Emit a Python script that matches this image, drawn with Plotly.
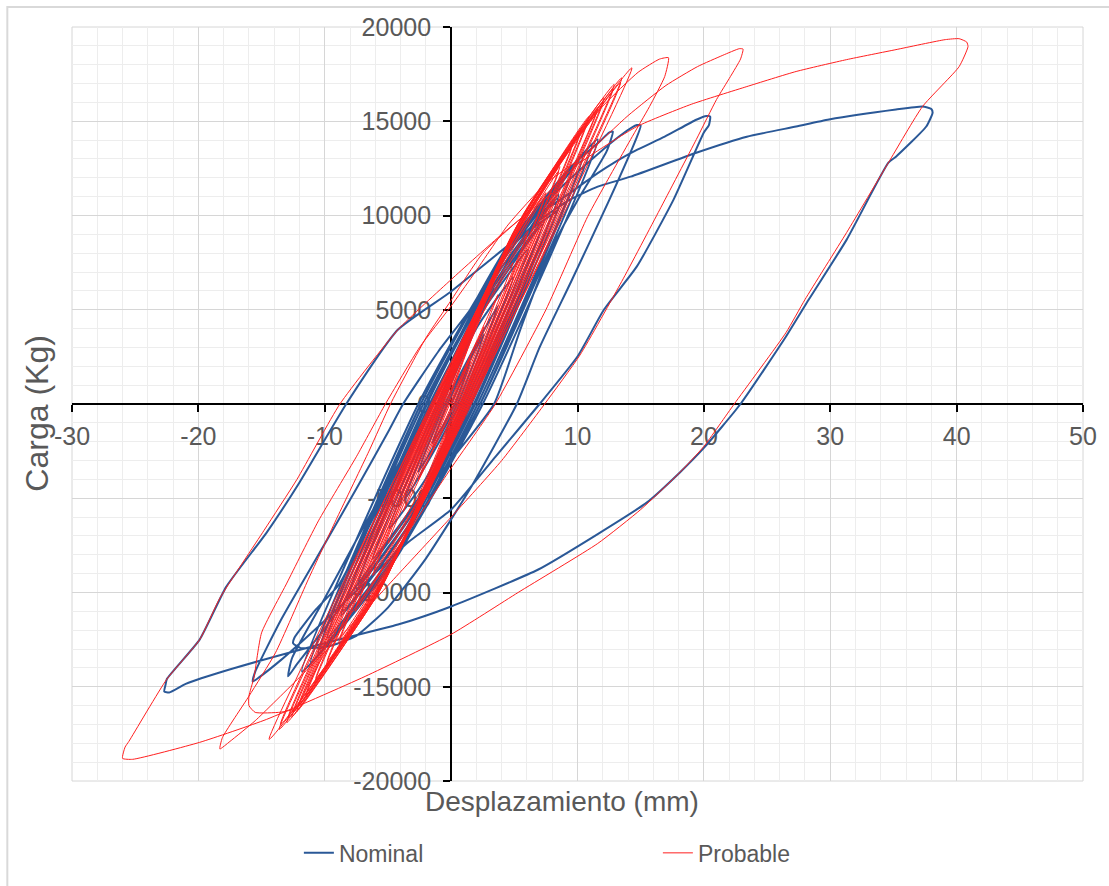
import plotly.graph_objects as go

# ---------------- data ----------------
nominal_x = [
    0,
    1.5, 0.3, -1.5, -0.3,
    2.6, 0.5, -2.6, -0.5,
    3.7, 0.7, -3.7, -0.7,
    2.0, 4.9, 0.9, -2.0, -4.9, -0.9,
    2.5, 6.1, 1.1, -2.5, -6.2, -1.1,
    3.0, 7.3, 1.3, -3.1, -7.5, -1.4,
    3.1, 7.2, 1.5, -3.0, -7.4, -1.6,
    3.4, 8.5, 1.6, -3.6, -8.7, -1.7,
    3.5, 8.4, 1.8, -3.5, -8.6, -1.9,
    3.8, 9.5, 1.9, -4.0, -9.8, -2.0,
    4.1, 10.4, 2.1, -4.2, -10.5, -2.2,
    4.2, 10.3, 2.3, -4.1, -10.4, -2.4,
    4.4, 11.1, 2.3, -4.4, -11.1, -2.4,
    4.5, 11.6, 2.5, -4.7, -11.8, -2.6,
    1.5, 5.5, 9.5, 11.8, 12.5, 12.8,
    12.3, 10.0, 7.9, 5.5, 3.4, 0.0, -3.5, -7.0, -10.0, -12.2, -12.9,
    -12.6, -10.0, -7.0, -4.0, -1.5, 1.0, 4.0, 8.0, 11.0, 13.5, 14.7, 15.0,
    14.6, 12.5, 9.5, 7.0, 5.2, 1.5, -2.0, -5.0, -7.5, -9.7, -11.9, -12.5,
    -12.4, -10.7, -8.9, -6.5, -4.0, -2.0, 0.0, 1.5, 2.2, 3.5, 6.3, 9.0, 11.6, 14.2, 16.9, 19.4, 20.2, 20.5,
    20.4, 20.0, 17.6, 14.7, 12.1, 10.0, 7.0, 3.5, 0.0, -3.4, -7.0, -10.5, -13.5, -15.2, -15.7,
    -15.5, -13.5, -10.5, -7.5, -5.0, -3.8, -1.0, 1.5, 4.0, 6.5, 9.4, 11.6, 14.2, 19.4, 23.4, 27.3, 29.9, 35.2, 37.3, 38.0, 38.1,
    37.6, 35.2, 34.6, 31.3, 28.3, 26.5, 22.9, 20.0, 18.1, 15.5, 11.6, 6.9, 0.0, -4.2, -9.8, -17.6, -21.0, -22.3, -22.7,
    -22.6, -22.5, -19.9, -17.8, -14.6, -12.0, -8.3, -4.2, 0.0, 4.5, 8.5,
]
nominal_y = [
    0,
    2200, 0, -2100, 0,
    3700, 0, -3600, 0,
    5200, 0, -5100, 0,
    4020, 6700, 0, -3960, -6600, 0,
    4920, 8200, 0, -4920, -8200, 0,
    5820, 9700, 0, -5880, -9800, 0,
    5700, 9500, 0, -5750, -9600, 0,
    6660, 11100, 0, -6720, -11200, 0,
    6500, 10900, 0, -6550, -11000, 0,
    7380, 12300, 0, -7440, -12400, 0,
    7860, 13100, 0, -7920, -13200, 0,
    7700, 12900, 0, -7750, -13000, 0,
    8220, 13700, 0, -8220, -13700, 0,
    8420, 14030, 0, -8510, -14190, 0,
    5000, 9300, 12600, 13950, 14400, 14450,
    13400, 10800, 8190, 4000, 0, -2970, -6000, -9200, -11900, -13800, -14450,
    -13500, -10300, -6600, -3000, 0, 3000, 7000, 11000, 12900, 14300, 14800, 14770,
    14000, 10800, 6500, 3000, 0, -4500, -8200, -10800, -12300, -12850, -12950, -12700,
    -12400, -10900, -9600, -6500, -3000, 0, 2600, 4500, 5400, 7300, 9780, 11000, 12250, 13310, 14180, 15080, 15280, 15250,
    14800, 14400, 10840, 7300, 5010, 2520, 0, -2800, -5600, -7340, -9600, -11800, -13600, -14500, -14720,
    -14200, -11500, -8000, -4500, -1500, 0, 2800, 5000, 7700, 9500, 10840, 11530, 12060, 13330, 14180, 14720, 15090, 15620, 15780, 15650, 15450,
    14720, 13120, 12800, 8720, 5540, 3580, 0, -2330, -3630, -5220, -6900, -8780, -10740, -11700, -12650, -14100, -14850, -15300, -15250,
    -14900, -14600, -12500, -9700, -6820, -4160, 0, 3950, 5970, 8400, 10300,
]

probable_x = [
    0,
    1.5, 0.1, -1.5, -0.1,
    2.6, 0.2, -2.6, -0.2,
    3.7, 0.3, -3.8, -0.3,
    2.25, 4.9, 0.4, -2.3, -5.0, -0.4,
    2.8, 6.1, 0.5, -2.85, -6.2, -0.5,
    2.9, 6.0, 0.7, -2.8, -6.1, -0.7,
    3.45, 7.5, 0.6, -3.5, -7.6, -0.6,
    3.5, 7.4, 0.8, -3.45, -7.5, -0.8,
    3.95, 8.6, 0.7, -4.1, -8.9, -0.7,
    4.0, 8.5, 0.9, -4.05, -8.8, -0.9,
    4.4, 9.6, 0.8, -4.55, -9.9, -0.8,
    4.45, 9.5, 1.0, -4.5, -9.8, -1.0,
    4.7, 10.3, 0.9, -4.95, -10.8, -0.9,
    4.75, 10.2, 1.1, -4.9, -10.7, -1.1,
    4.95, 10.9, 1.0, -5.25, -11.5, -1.0,
    5.0, 10.8, 1.2, -5.2, -11.4, -1.2,
    5.25, 11.6, 1.1, -5.55, -12.2, -1.1,
    5.3, 11.5, 1.3, -5.5, -12.1, -1.3,
    5.45, 12.1, 1.2, -5.7, -12.6, -1.2,
    5.5, 12.0, 1.4, -5.65, -12.5, -1.4,
    5.8, 12.9, 1.3, -5.85, -13.0, -1.3,
    5.85, 12.8, 1.5, -5.8, -12.9, -1.5,
    6.05, 13.5, 1.4, -6.1, -13.6, -1.4,
    6.1, 13.4, 1.6, -6.05, -13.5, -1.6,
    6.4, 14.3, 1.5, -6.45, -14.4, -1.5,
    1.5, 5.0, 9.0, 12.0, 14.8, 16.5, 17.2,
    16.9, 15.7, 14.2, 12.4, 10.8, 7.5, 3.5, 0.0, -4.0, -8.0, -10.5, -11.8, -12.3, -13.5, -15.5, -16.0,
    -16.0, -15.6, -15.0, -13.0, -10.5, -7.5, -5.2, -2.5, 0.0, 1.7, 4.5, 7.5, 10.6, 14.0, 17.0, 19.5, 21.5, 22.8, 23.1,
    22.9, 22.1, 21.0, 19.4, 16.5, 13.5, 10.2, 7.4, 4.0, 0.0, -4.0, -8.0, -12.0, -15.5, -17.5, -18.3,
    -18.1, -16.0, -13.9, -11.3, -9.0, -6.5, -4.8, -2.0, 0.0, 2.5, 6.3, 10.0, 14.7, 19.0, 23.4, 27.3, 31.3, 35.2, 39.1, 40.2, 40.8, 40.9,
    40.2, 37.3, 34.6, 31.3, 28.0, 26.5, 22.4, 20.0, 18.1, 15.0, 11.6, 5.3, 0.0, -6.8, -14.6, -19.9, -25.2, -26.0,
    -25.8, -25.5, -22.5, -19.9, -18.3, -14.8, -12.2, -8.8, -4.2, 0.0, 4.0, 8.0,
]
probable_y = [
    0,
    2400, 0, -2300, 0,
    4100, 0, -4000, 0,
    5800, 0, -5700, 0,
    4500, 7500, 0, -4440, -7400, 0,
    5520, 9200, 0, -5460, -9100, 0,
    5400, 8950, 0, -5300, -8850, 0,
    6730, 11210, 0, -6600, -11000, 0,
    6600, 10950, 0, -6450, -10750, 0,
    7560, 12600, 0, -7620, -12700, 0,
    7400, 12350, 0, -7450, -12450, 0,
    8280, 13800, 0, -8340, -13900, 0,
    8100, 13550, 0, -8150, -13650, 0,
    8760, 14600, 0, -8880, -14800, 0,
    8600, 14350, 0, -8700, -14550, 0,
    9150, 15250, 0, -9300, -15500, 0,
    8950, 15000, 0, -9100, -15250, 0,
    9430, 15720, 0, -9780, -16300, 0,
    9250, 15500, 0, -9600, -16050, 0,
    9750, 16250, 0, -9960, -16600, 0,
    9550, 16000, 0, -9750, -16350, 0,
    10170, 16950, 0, -10140, -16900, 0,
    9950, 16700, 0, -9950, -16650, 0,
    10380, 17300, 0, -10360, -17260, 0,
    10200, 17050, 0, -10150, -17000, 0,
    10700, 17830, 0, -10670, -17790, 0,
    4000, 8800, 13200, 15800, 17600, 18300, 18370,
    17370, 15780, 14030, 11900, 9940, 5000, 0, -3400, -7400, -11200, -13800, -15600, -16150, -16350, -16360, -16000,
    -15500, -14500, -12140, -9500, -6200, -2800, 0, 3000, 5200, 6800, 9500, 11700, 13200, 15300, 16900, 17900, 18500, 18850, 18830,
    18300, 17370, 16150, 14030, 10300, 6500, 2600, 0, -3000, -6000, -8900, -11800, -14500, -16800, -17900, -18300,
    -17700, -15500, -13200, -9300, -6000, -2500, 0, 3500, 5500, 8000, 10320, 12700, 14720, 15900, 16840, 17640, 18270, 18800, 19330, 19380, 19200, 18960,
    17900, 15780, 12800, 9100, 5540, 3790, 0, -2250, -3630, -5600, -7400, -10000, -12220, -14450, -16730, -17950, -18850, -18800,
    -18200, -17900, -14600, -12500, -10300, -6700, -4000, 0, 3950, 6600, 9000, 11200,
]

x_tick_values = [-30, -20, -10, 0, 10, 20, 30, 40, 50]
x_tick_labels = ["-30", "-20", "-10", "0", "10", "20", "30", "40", "50"]
y_tick_values = [-20000, -15000, -10000, -5000, 0, 5000, 10000, 15000, 20000]
y_tick_labels = ["-20000", "-15000", "-10000", "-5000", "0", "5000", "10000", "15000", "20000"]

# ---------------- figure ----------------
W, H = 1109, 886
ML, MR, MT, MB = 72, 21, 27, 104
PW, PH = W - ML - MR, H - MT - MB


def px_to_paper_x(px):
    return (px - ML) / PW


def px_to_paper_y(py):
    return (H - MB - py) / PH


FONT = "Liberation Sans, Arial, sans-serif"
TXT = "#595959"

fig = go.Figure()
fig.add_trace(go.Scatter(
    x=nominal_x, y=nominal_y, mode="lines", name="Nominal",
    line=dict(color="#2a5897", width=2, shape="spline", smoothing=0.5),
))
fig.add_trace(go.Scatter(
    x=probable_x, y=probable_y, mode="lines", name="Probable",
    line=dict(color="#ff1f1f", width=1, shape="spline", smoothing=0.5),
))

axis_common = dict(
    showline=True, linecolor="black", linewidth=2,
    ticks="outside", ticklen=7, tickwidth=2, tickcolor="black",
    tickfont=dict(size=25, color=TXT, family=FONT),
    showgrid=True, gridcolor="#d6d6d6", gridwidth=1,
    zeroline=False, layer="below traces", fixedrange=True,
    tickmode="array",
)

fig.update_layout(
    width=W, height=H, autosize=False,
    margin=dict(l=ML, r=MR, t=MT, b=MB),
    paper_bgcolor="white", plot_bgcolor="white",
    font=dict(family=FONT, color=TXT),
    xaxis=dict(
        range=[-30, 50], tickvals=x_tick_values, ticktext=x_tick_labels,
        anchor="free", position=0.5, ticklabelstandoff=3,
        minor=dict(tickmode="linear", tick0=0, dtick=2, showgrid=True,
                   gridcolor="#ededed", gridwidth=1),
        **axis_common,
    ),
    yaxis=dict(
        range=[-20000, 20000], tickvals=y_tick_values, ticktext=y_tick_labels,
        anchor="free", position=30 / 80, ticklabelstandoff=7,
        minor=dict(tickmode="linear", tick0=0, dtick=1000, showgrid=True,
                   gridcolor="#ededed", gridwidth=1),
        **axis_common,
    ),
    showlegend=True,
    legend=dict(
        orientation="h", x=px_to_paper_x(300), y=px_to_paper_y(854),
        xanchor="left", yanchor="middle",
        font=dict(size=23, color=TXT, family=FONT),
        entrywidth=314, entrywidthmode="pixels",
        bgcolor="rgba(0,0,0,0)", tracegroupgap=0,
    ),
    annotations=[
        dict(text="Desplazamiento (mm)", x=px_to_paper_x(564), y=px_to_paper_y(803),
             xref="paper", yref="paper", showarrow=False,
             font=dict(size=28, color=TXT, family=FONT),
             xanchor="center", yanchor="middle"),
        dict(text="Carga (Kg)", x=px_to_paper_x(37), y=px_to_paper_y(414),
             xref="paper", yref="paper", showarrow=False, textangle=-90,
             font=dict(size=32, color=TXT, family=FONT),
             xanchor="center", yanchor="middle"),
    ],
    shapes=[
        dict(type="rect", xref="paper", yref="paper", x0=0, x1=1, y0=0, y1=1,
             line=dict(color="#d6d6d6", width=1), layer="below"),
        dict(type="rect", xref="paper", yref="paper",
             x0=px_to_paper_x(7), x1=px_to_paper_x(1130),
             y0=px_to_paper_y(920), y1=px_to_paper_y(7),
             line=dict(color="#d9d9d9", width=2), layer="below"),
    ],
)

fig.write_html("out.html")
